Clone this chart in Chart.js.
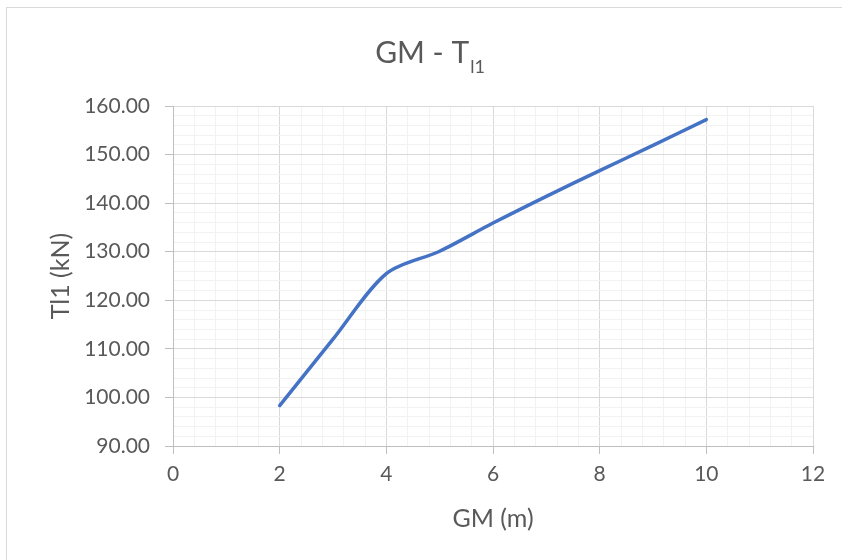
<!DOCTYPE html>
<html>
<head>
<meta charset="utf-8">
<script src="https://cdn.jsdelivr.net/npm/chart.js@4"></script>
<style>
  html, body { margin: 0; padding: 0; background: #ffffff; }
  #wrap { width: 842px; height: 560px; position: relative; }
</style>
</head>
<body>
<div id="wrap"><canvas id="c" width="842" height="560"></canvas></div>
<script>
// Data
const gmValues = [2, 3, 4, 5, 6, 7, 8, 9, 10];
const tl1Values = [98.3, 112.0, 125.5, 130.1, 135.9, 141.4, 146.7, 151.9, 157.2];
const xTickMajor = [0, 2, 4, 6, 8, 10, 12];
const yTickMajor = [90, 100, 110, 120, 130, 140, 150, 160];
const chartTitleMain = 'GM - T';
const chartTitleSub = 'l1';
const xAxisTitle = 'GM (m)';
const yAxisTitle = 'Tl1 (kN)';

const FONT = 'Lato';
const TEXT = '#595959';
const MAJOR = '#d9d9d9';
const MINOR = '#f2f2f2';

const isMajorX = v => xTickMajor.some(t => Math.abs(t - v) < 1e-6);
const isMajorY = v => yTickMajor.some(t => Math.abs(t - v) < 1e-6);

const framePlugin = {
  id: 'frame',
  beforeDraw(chart) {
    const ctx = chart.ctx;
    ctx.save();
    ctx.fillStyle = '#ffffff';
    ctx.fillRect(0, 0, chart.width, chart.height);
    ctx.strokeStyle = '#d9d9d9';
    ctx.lineWidth = 1;
    ctx.strokeRect(6.5, 7.5, chart.width + 10, chart.height + 10);
    ctx.restore();
  },
  afterDraw(chart) {
    const ctx = chart.ctx;
    ctx.save();
    ctx.fillStyle = TEXT;
    ctx.textBaseline = 'alphabetic';
    ctx.textAlign = 'left';
    ctx.font = `30px ${FONT}`;
    const wMain = ctx.measureText(chartTitleMain).width;
    ctx.font = `18px ${FONT}`;
    const wSub = ctx.measureText(chartTitleSub).width;
    const total = wMain + wSub + 1;
    const cx = 430;
    const x = cx - total / 2;
    ctx.font = `30px ${FONT}`;
    ctx.fillText(chartTitleMain, x, 63);
    ctx.font = `18px ${FONT}`;
    ctx.fillText(chartTitleSub, x + wMain + 1, 73);
    ctx.restore();
  }
};

new Chart(document.getElementById('c'), {
  type: 'line',
  data: {
    datasets: [{
      data: gmValues.map((g, i) => ({ x: g, y: tl1Values[i] })),
      borderColor: '#4472c4',
      borderWidth: 3.5,
      borderCapStyle: 'round',
      borderJoinStyle: 'round',
      pointRadius: 0,
      tension: 0.3,
      fill: false
    }]
  },
  options: {
    responsive: false,
    animation: false,
    events: [],
    layout: { padding: { top: 106, right: 29, bottom: 0, left: 0 } },
    plugins: { legend: { display: false }, tooltip: { enabled: false }, title: { display: false } },
    scales: {
      x: {
        type: 'linear',
        min: 0, max: 12,
        afterFit(scale) { scale.height = 114; },
        ticks: {
          stepSize: 0.4,
          autoSkip: false,
          maxRotation: 0,
          padding: 8,
          color: TEXT,
          font: { family: FONT, size: 21 },
          callback: v => isMajorX(v) ? String(Math.round(v)) : ''
        },
        grid: {
          color: c => (c.tick && isMajorX(c.tick.value)) ? MAJOR : MINOR,
          lineWidth: 1,
          tickLength: 8,
          tickColor: c => (c.tick && isMajorX(c.tick.value)) ? '#bfbfbf' : 'rgba(0,0,0,0)'
        },
        border: { color: '#bfbfbf', width: 1 },
        title: {
          display: true, text: xAxisTitle, color: TEXT,
          font: { family: FONT, size: 25 },
          padding: { top: 0, bottom: 26 }
        }
      },
      y: {
        type: 'linear',
        min: 90, max: 160,
        afterFit(scale) { scale.width = 173; },
        ticks: {
          stepSize: 2,
          autoSkip: false,
          padding: 15,
          color: TEXT,
          font: { family: FONT, size: 21 },
          callback: v => isMajorY(v) ? Number(v).toFixed(2) : ''
        },
        grid: {
          color: c => (c.tick && isMajorY(c.tick.value)) ? MAJOR : MINOR,
          lineWidth: 1,
          tickLength: 8,
          tickColor: c => (c.tick && isMajorY(c.tick.value)) ? '#bfbfbf' : 'rgba(0,0,0,0)'
        },
        border: { color: '#bfbfbf', width: 1 },
        title: {
          display: true, text: yAxisTitle, color: TEXT,
          font: { family: FONT, size: 25 },
          padding: { top: 46, bottom: 0 }
        }
      }
    }
  },
  plugins: [framePlugin]
});
</script>
</body>
</html>
